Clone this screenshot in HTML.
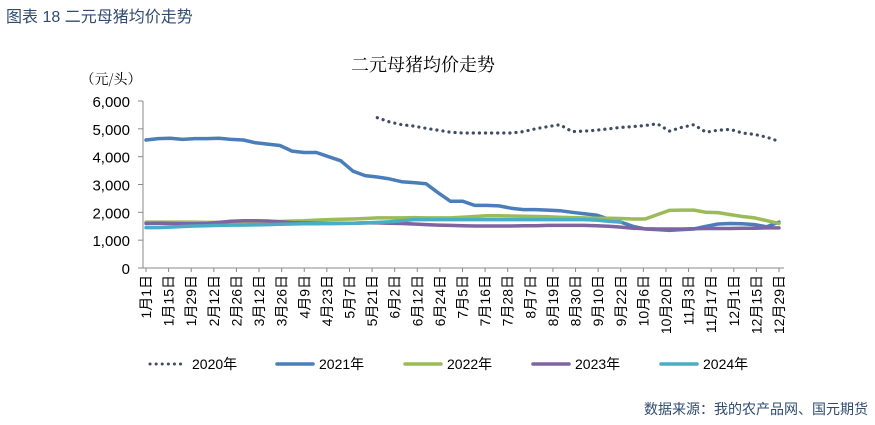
<!DOCTYPE html>
<html><head><meta charset="utf-8">
<style>
body{margin:0;background:#fff;width:875px;height:420px;overflow:hidden;font-family:"Liberation Sans","Noto Sans CJK SC",sans-serif;}
</style></head>
<body>
<svg id="chart" width="875" height="420" xmlns="http://www.w3.org/2000/svg">
<text x="6" y="22" font-size="16" fill="#2f4b6e" font-family="Liberation Sans, Noto Sans CJK SC, sans-serif">图表 18  二元母猪均价走势</text>
<text x="423" y="71" font-size="18" fill="#000" text-anchor="middle" font-family="Noto Serif CJK SC, serif">二元母猪均价走势</text>
<text x="111" y="84" font-size="14" fill="#000" text-anchor="middle" font-family="Noto Serif CJK SC, serif">（元/头）</text>
<g id="axes"></g>
<g id="series"></g>
<g id="legend"></g>
<text x="868" y="414" font-size="14" fill="#2f4b6e" text-anchor="end" font-family="Liberation Sans, Noto Sans CJK SC, sans-serif">数据来源：我的农产品网、国元期货</text>
</svg>
<script>
const categories=["1月1日","1月15日","1月29日","2月12日","2月26日","3月12日","3月26日","4月9日","4月23日","5月7日","5月21日","6月2日","6月12日","6月24日","7月5日","7月16日","7月28日","8月7日","8月19日","8月30日","9月10日","9月22日","10月6日","10月20日","11月3日","11月17日","12月1日","12月15日","12月29日"];
const yTicks=[0,1000,2000,3000,4000,5000,6000];
const yTickLabels=["0","1,000","2,000","3,000","4,000","5,000","6,000"];
const seriesNames=["2020年","2021年","2022年","2023年","2024年"];
const N=53;
const s2020=[null,null,null,null,null,null,null,null,null,null,null,null,null,null,null,null,null,null,null,5400,5250,5150,5100,5020,4950,4880,4850,4850,4850,4850,4850,4900,5000,5080,5150,4900,4920,4950,5000,5050,5080,5120,5180,4920,5050,5150,4880,4950,4980,4850,4800,4700,4550];
const s2021=[4600,4650,4660,4620,4650,4650,4660,4620,4600,4500,4450,4400,4200,4150,4150,4000,3850,3480,3320,3270,3200,3100,3070,3030,2700,2400,2400,2250,2250,2230,2150,2100,2100,2080,2060,2000,1950,1900,1760,1650,1500,1400,1380,1350,1380,1400,1500,1580,1600,1590,1560,1480,1650];
const s2022=[1650,1650,1650,1650,1650,1640,1640,1640,1650,1650,1660,1670,1690,1700,1720,1740,1750,1760,1780,1800,1800,1800,1810,1800,1800,1800,1820,1850,1880,1880,1870,1860,1850,1840,1820,1810,1800,1790,1790,1780,1760,1760,1920,2070,2080,2080,2000,1990,1920,1850,1800,1700,1600];
const s2023=[1600,1610,1600,1590,1590,1600,1640,1680,1700,1700,1690,1660,1630,1620,1610,1600,1610,1610,1620,1620,1610,1600,1580,1560,1540,1530,1520,1510,1510,1510,1510,1520,1520,1530,1530,1530,1530,1520,1500,1470,1430,1410,1400,1400,1400,1410,1420,1420,1420,1430,1430,1440,1440];
const s2024=[1450,1450,1470,1490,1510,1520,1530,1540,1540,1550,1560,1570,1580,1590,1590,1600,1600,1610,1620,1640,1660,1700,1740,1740,1740,1740,1740,1740,1740,1740,1740,1740,1740,1740,1740,1740,1740,1720,1680,1650,null,null,null,null,null,null,null,null,null,null,null,null,null];
const colors=["#3f4d63","#4a7ebb","#9bbb59","#8064a2","#4bacc6"];
const NS="http://www.w3.org/2000/svg";
const X0=146,X1=779,Y0=268,YTOP=101,YMAX=6000;
function xs(i){return X0+(X1-X0)*i/(N-1);}
function xc(k){return X0+(X1-X0)*k/(categories.length-1);}
function ys(v){return Y0-(Y0-YTOP)*v/YMAX;}
function mk(tag,attrs,parent){const e=document.createElementNS(NS,tag);for(const k in attrs)e.setAttribute(k,attrs[k]);parent.appendChild(e);return e;}
const axes=document.getElementById('axes');
const ax=mk('line',{x1:143,y1:ys(6000),x2:143,y2:Y0,stroke:'#888','stroke-width':1},axes);


const xa=mk('line',{x1:143,y1:Y0,x2:784,y2:Y0,stroke:'#888','stroke-width':1},axes);


yTicks.forEach((v,i)=>{
  mk('line',{x1:138,y1:ys(v),x2:143,y2:ys(v),stroke:'#888'},axes);
  const t=mk('text',{x:130,y:ys(v)+6,'font-size':15,'text-anchor':'end',fill:'#000'},axes);
  t.textContent=yTickLabels[i];
  
  
});
categories.forEach((c,k)=>{
  const x=xc(k);
  mk('line',{x1:x,y1:Y0,x2:x,y2:Y0+4,stroke:'#888'},axes);
  const t=mk('text',{x:0,y:0,'font-size':14,'text-anchor':'end',fill:'#000',transform:`translate(${x+5},${Y0+7}) rotate(-90)`},axes);
  t.textContent=c;
  
  
});
const sg=document.getElementById('series');
[s2020,s2021,s2022,s2023,s2024].forEach((arr,si)=>{
  let d='';let pen=false;
  arr.forEach((v,i)=>{if(v==null){pen=false;return;}d+=(pen?'L':'M')+xs(i).toFixed(1)+' '+ys(v).toFixed(1)+' ';pen=true;});
  const p=mk('path',{d:d,fill:'none',stroke:colors[si],'stroke-width':3.5,'stroke-linejoin':'round','stroke-linecap':'round'},sg);
  if(si==0){p.setAttribute('stroke-dasharray','0.1 6');p.setAttribute('stroke-width','3.2');}
  
  
});
const lg=document.getElementById('legend');
const lx=[150,277,405,533,661];
seriesNames.forEach((n,i)=>{
  const g=mk('g',{},lg);
  
  
  const l=mk('line',{x1:lx[i],y1:364,x2:lx[i]+36,y2:364,stroke:colors[i],'stroke-width':i==0?3:3.5,'stroke-linecap':'round'},g);
  if(i==0)l.setAttribute('stroke-dasharray','0.1 6');
  const t=mk('text',{x:lx[i]+42,y:369,'font-size':14,fill:'#000'},g);
  t.textContent=n;
});
</script>
</body></html>
